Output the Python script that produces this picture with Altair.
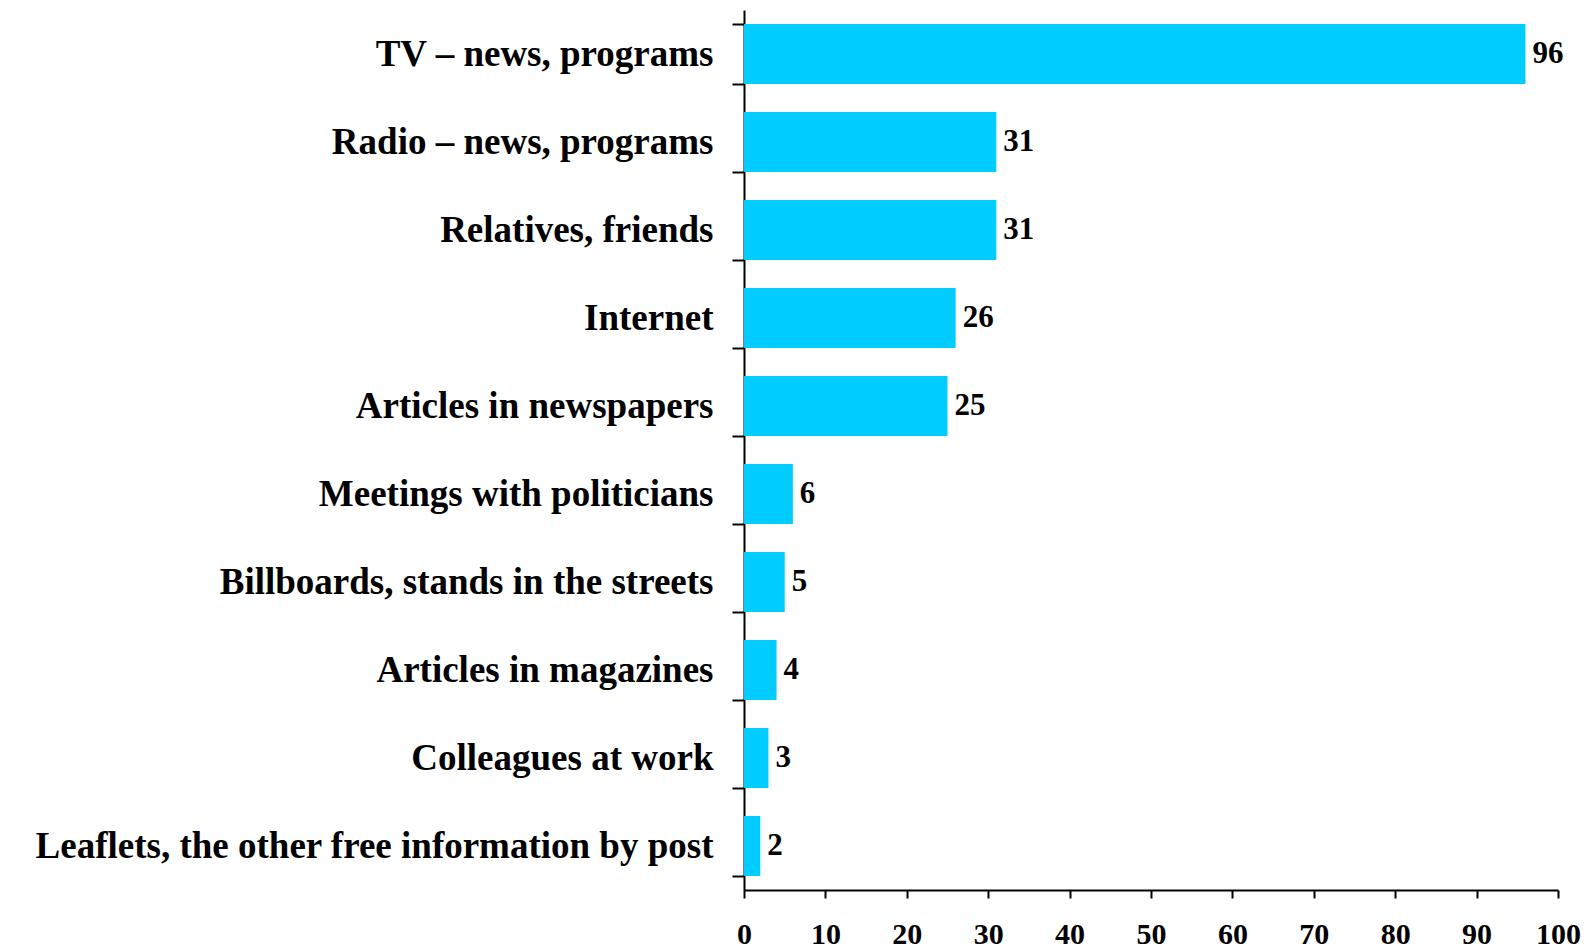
import altair as alt
import pandas as pd

categories = [
    "TV – news, programs",
    "Radio – news, programs",
    "Relatives, friends",
    "Internet",
    "Articles in newspapers",
    "Meetings with politicians",
    "Billboards, stands in the streets",
    "Articles in magazines",
    "Colleagues at work",
    "Leaflets, the other free information by post",
]
values = [96, 31, 31, 26, 25, 6, 5, 4, 3, 2]
x_ticks = [0, 10, 20, 30, 40, 50, 60, 70, 80, 90, 100]

df = pd.DataFrame({"category": categories, "value": values})

FONT = "Liberation Serif"

y_enc = alt.Y(
    "category:N",
    sort=categories,
    title=None,
    scale=alt.Scale(paddingInner=0.32, paddingOuter=0.16),
    axis=alt.Axis(
        tickBand="extent",
        tickSize=12,
        tickColor="black",
        tickWidth=2,
        domainColor="black",
        domainWidth=2,
        labelFont=FONT,
        labelFontWeight="bold",
        labelFontSize=37,
        labelColor="black",
        labelPadding=19,
        labelLimit=900,
    ),
)
x_enc = alt.X(
    "value:Q",
    title=None,
    scale=alt.Scale(domain=[0, 100], nice=False),
    axis=alt.Axis(
        values=x_ticks,
        grid=False,
        tickSize=8,
        tickColor="black",
        tickWidth=2,
        domainColor="black",
        domainWidth=2,
        labelFont=FONT,
        labelFontWeight="bold",
        labelFontSize=30,
        labelColor="black",
        labelPadding=21,
        labelFlush=False,
    ),
)

bars = alt.Chart(df).mark_bar(color="#00CCFF").encode(x=x_enc, y=y_enc)
text = alt.Chart(df).mark_text(
    align="left", baseline="middle", dx=7, font=FONT, fontWeight="bold",
    fontSize=31, color="black"
).encode(x="value:Q", y=alt.Y("category:N", sort=categories), text="value:Q")

chart = (bars + text).properties(
    width=814,
    height=880,
    autosize=alt.AutoSizeParams(type="none"),
    padding={"left": 736, "top": 2, "right": 24, "bottom": 59},
).configure_view(stroke=None)

chart.save("out.html", embed_options={"renderer": "svg", "actions": False})
